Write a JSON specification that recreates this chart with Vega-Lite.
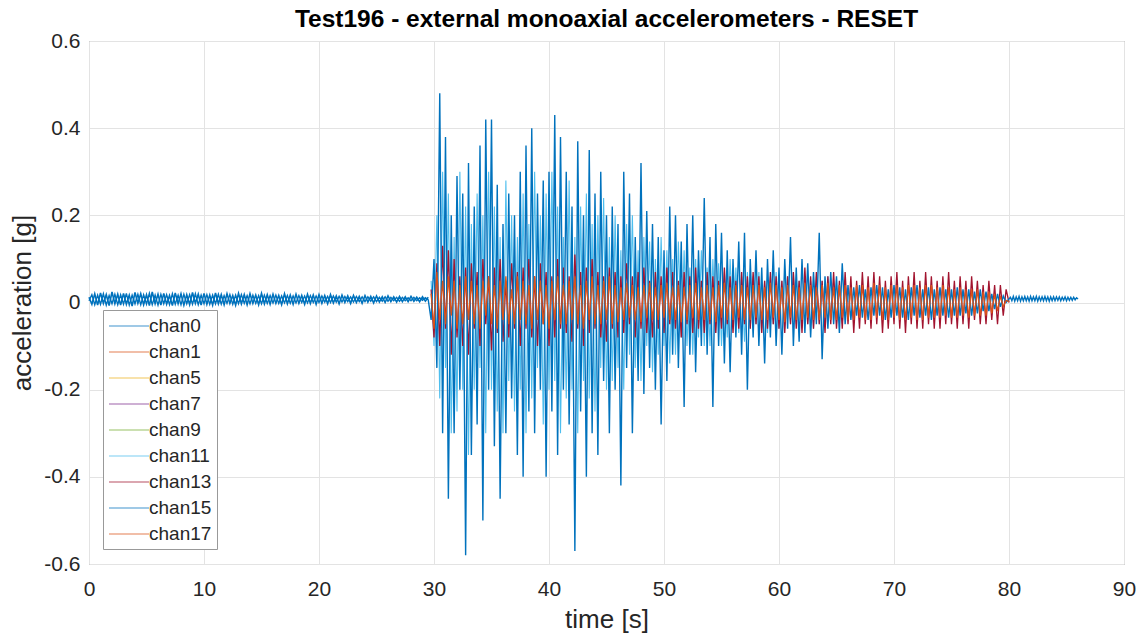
{
"$schema": "https://vega.github.io/schema/vega-lite/v6.json",
"width": 1035, "height": 523,
"autosize": {"type": "none"},
"padding": {"left": 89, "top": 41, "right": 23, "bottom": 78},
"background": "white",
"title": {"text": "Test196 - external monoaxial accelerometers - RESET", "font": "Liberation Sans", "fontSize": 24.5, "fontWeight": "bold", "color": "#000000", "anchor": "middle", "offset": -2},
"data": {"values": [
{"t":0,"chan0":0.012,"chan15":0.004},{"t":0.25,"chan0":-0.004,"chan15":0.018},{"t":0.5,"chan0":0.02,"chan15":-0.005},{"t":0.75,"chan0":-0.006,"chan15":0.017},
{"t":1,"chan0":0.022,"chan15":-0.004},{"t":1.25,"chan0":-0.002,"chan15":0.02},{"t":1.5,"chan0":0.018,"chan15":-0.006},{"t":1.75,"chan0":-0.007,"chan15":0.016},
{"t":2,"chan0":0.024,"chan15":-0.003},{"t":2.25,"chan0":-0.003,"chan15":0.019},{"t":2.5,"chan0":0.019,"chan15":-0.005},{"t":2.75,"chan0":-0.006,"chan15":0.018},
{"t":3,"chan0":0.021,"chan15":-0.004},{"t":3.25,"chan0":-0.004,"chan15":0.021},{"t":3.5,"chan0":0.017,"chan15":-0.006},{"t":3.75,"chan0":-0.008,"chan15":0.017},
{"t":4,"chan0":0.023,"chan15":-0.003},{"t":4.25,"chan0":-0.002,"chan15":0.019},{"t":4.5,"chan0":0.02,"chan15":-0.005},{"t":4.75,"chan0":-0.005,"chan15":0.018},
{"t":5,"chan0":0.018,"chan15":-0.004},{"t":5.25,"chan0":-0.007,"chan15":0.021},{"t":5.5,"chan0":0.024,"chan15":-0.005},{"t":5.75,"chan0":-0.003,"chan15":0.017},
{"t":6,"chan0":0.019,"chan15":-0.006},{"t":6.25,"chan0":-0.006,"chan15":0.019},{"t":6.5,"chan0":0.021,"chan15":-0.003},{"t":6.75,"chan0":-0.004,"chan15":0.018},
{"t":7,"chan0":0.016,"chan15":-0.005},{"t":7.25,"chan0":-0.007,"chan15":0.02},{"t":7.5,"chan0":0.022,"chan15":-0.004},{"t":7.75,"chan0":-0.003,"chan15":0.017},
{"t":8,"chan0":0.02,"chan15":-0.005},{"t":8.25,"chan0":-0.006,"chan15":0.019},{"t":8.5,"chan0":0.018,"chan15":-0.003},{"t":8.75,"chan0":-0.005,"chan15":0.018},
{"t":9,"chan0":0.023,"chan15":-0.004},{"t":9.25,"chan0":-0.002,"chan15":0.02},{"t":9.5,"chan0":0.019,"chan15":-0.005},{"t":9.75,"chan0":-0.006,"chan15":0.017},
{"t":10,"chan0":0.021,"chan15":-0.003},{"t":10.25,"chan0":-0.004,"chan15":0.018},{"t":10.5,"chan0":0.017,"chan15":-0.004},{"t":10.75,"chan0":-0.006,"chan15":0.017},
{"t":11,"chan0":0.022,"chan15":-0.003},{"t":11.25,"chan0":-0.003,"chan15":0.019},{"t":11.5,"chan0":0.018,"chan15":-0.004},{"t":11.75,"chan0":-0.005,"chan15":0.016},
{"t":12,"chan0":0.02,"chan15":-0.002},{"t":12.25,"chan0":-0.002,"chan15":0.018},{"t":12.5,"chan0":0.016,"chan15":-0.004},{"t":12.75,"chan0":-0.006,"chan15":0.017},
{"t":13,"chan0":0.021,"chan15":-0.003},{"t":13.25,"chan0":-0.003,"chan15":0.018},{"t":13.5,"chan0":0.018,"chan15":-0.002},{"t":13.75,"chan0":-0.005,"chan15":0.016},
{"t":14,"chan0":0.02,"chan15":-0.003},{"t":14.25,"chan0":-0.002,"chan15":0.017},{"t":14.5,"chan0":0.017,"chan15":-0.002},{"t":14.75,"chan0":-0.005,"chan15":0.016},
{"t":15,"chan0":0.021,"chan15":-0.003},{"t":15.25,"chan0":-0.003,"chan15":0.017},{"t":15.5,"chan0":0.018,"chan15":-0.002},{"t":15.75,"chan0":-0.004,"chan15":0.016},
{"t":16,"chan0":0.019,"chan15":-0.001},{"t":16.25,"chan0":-0.002,"chan15":0.017},{"t":16.5,"chan0":0.016,"chan15":-0.002},{"t":16.75,"chan0":-0.005,"chan15":0.015},
{"t":17,"chan0":0.02,"chan15":-0.001},{"t":17.25,"chan0":-0.003,"chan15":0.016},{"t":17.5,"chan0":0.017,"chan15":-0.002},{"t":17.75,"chan0":-0.004,"chan15":0.015},
{"t":18,"chan0":0.019,"chan15":-0.001},{"t":18.25,"chan0":-0.002,"chan15":0.016},{"t":18.5,"chan0":0.016,"chan15":0.0},{"t":18.75,"chan0":-0.004,"chan15":0.015},
{"t":19,"chan0":0.019,"chan15":-0.001},{"t":19.25,"chan0":-0.002,"chan15":0.016},{"t":19.5,"chan0":0.017,"chan15":0.0},{"t":19.75,"chan0":-0.004,"chan15":0.015},
{"t":20,"chan0":0.018,"chan15":0.0},{"t":20.25,"chan0":-0.002,"chan15":0.015},{"t":20.5,"chan0":0.016,"chan15":0.001},{"t":20.75,"chan0":-0.003,"chan15":0.014},
{"t":21,"chan0":0.018,"chan15":0.0},{"t":21.25,"chan0":-0.001,"chan15":0.015},{"t":21.5,"chan0":0.015,"chan15":0.001},{"t":21.75,"chan0":-0.003,"chan15":0.014},
{"t":22,"chan0":0.017,"chan15":0.001},{"t":22.25,"chan0":0.0,"chan15":0.014},{"t":22.5,"chan0":0.015,"chan15":0.002},{"t":22.75,"chan0":-0.002,"chan15":0.013},
{"t":23,"chan0":0.016,"chan15":0.001},{"t":23.25,"chan0":0.0,"chan15":0.014},{"t":23.5,"chan0":0.014,"chan15":0.002},{"t":23.75,"chan0":-0.002,"chan15":0.013},
{"t":24,"chan0":0.016,"chan15":0.002},{"t":24.25,"chan0":0.001,"chan15":0.013},{"t":24.5,"chan0":0.014,"chan15":0.003},{"t":24.75,"chan0":-0.001,"chan15":0.013},
{"t":25,"chan0":0.015,"chan15":0.002},{"t":25.25,"chan0":0.001,"chan15":0.012},{"t":25.5,"chan0":0.013,"chan15":0.003},{"t":25.75,"chan0":0.0,"chan15":0.013},
{"t":26,"chan0":0.015,"chan15":0.003},{"t":26.25,"chan0":0.002,"chan15":0.012},{"t":26.5,"chan0":0.013,"chan15":0.004},{"t":26.75,"chan0":0.001,"chan15":0.012},
{"t":27,"chan0":0.014,"chan15":0.003},{"t":27.25,"chan0":0.002,"chan15":0.012},{"t":27.5,"chan0":0.013,"chan15":0.004},{"t":27.75,"chan0":0.002,"chan15":0.011},
{"t":28,"chan0":0.014,"chan15":0.004},{"t":28.25,"chan0":0.003,"chan15":0.012},{"t":28.5,"chan0":0.012,"chan15":0.004},{"t":28.75,"chan0":0.002,"chan15":0.011},
{"t":29,"chan0":0.013,"chan15":0.005},{"t":29.25,"chan0":0.003,"chan15":0.011},{"t":29.5,"chan0":0.012,"chan15":0.006},
{"t":29.75,"chan11":0.05,"chan13":0.03,"chan15":-0.04,"chan17":0.02},
{"t":30,"chan11":-0.1,"chan13":-0.08,"chan15":0.1,"chan17":-0.06},
{"t":30.25,"chan11":0.2,"chan13":0.09,"chan15":-0.15,"chan17":0.07},
{"t":30.5,"chan11":-0.22,"chan13":-0.1,"chan15":0.48,"chan17":-0.04},
{"t":30.75,"chan11":0.3,"chan13":0.13,"chan15":-0.3,"chan17":0.05},
{"t":31,"chan11":-0.15,"chan13":-0.06,"chan15":0.38,"chan17":-0.05},
{"t":31.25,"chan11":0.25,"chan13":0.12,"chan15":-0.45,"chan17":0.06},
{"t":31.5,"chan11":-0.3,"chan13":-0.12,"chan15":0.2,"chan17":-0.03},
{"t":31.75,"chan11":0.15,"chan13":0.1,"chan15":-0.3,"chan17":0.05},
{"t":32,"chan11":-0.25,"chan13":-0.08,"chan15":0.29,"chan17":-0.06},
{"t":32.25,"chan11":0.3,"chan13":0.06,"chan15":-0.2,"chan17":0.04},
{"t":32.5,"chan11":-0.2,"chan13":-0.1,"chan15":0.25,"chan17":-0.05},
{"t":32.75,"chan11":0.22,"chan13":0.08,"chan15":-0.58,"chan17":0.06},
{"t":33,"chan11":-0.35,"chan13":-0.12,"chan15":0.32,"chan17":-0.04},
{"t":33.25,"chan11":0.18,"chan13":0.09,"chan15":-0.35,"chan17":0.05},
{"t":33.5,"chan11":-0.2,"chan13":-0.06,"chan15":0.22,"chan17":-0.05},
{"t":33.75,"chan11":0.25,"chan13":0.07,"chan15":-0.28,"chan17":0.04},
{"t":34,"chan11":-0.15,"chan13":-0.1,"chan15":0.36,"chan17":-0.06},
{"t":34.25,"chan11":0.2,"chan13":0.1,"chan15":-0.5,"chan17":0.05},
{"t":34.5,"chan11":-0.3,"chan13":-0.05,"chan15":0.42,"chan17":-0.03},
{"t":34.75,"chan11":0.3,"chan13":0.06,"chan15":-0.2,"chan17":0.06},
{"t":35,"chan11":-0.2,"chan13":-0.11,"chan15":0.42,"chan17":-0.05},
{"t":35.25,"chan11":0.22,"chan13":0.08,"chan15":-0.33,"chan17":0.04},
{"t":35.5,"chan11":-0.25,"chan13":-0.07,"chan15":0.27,"chan17":-0.06},
{"t":35.75,"chan11":0.15,"chan13":0.1,"chan15":-0.45,"chan17":0.05},
{"t":36,"chan11":-0.3,"chan13":-0.09,"chan15":0.18,"chan17":-0.04},
{"t":36.25,"chan11":0.28,"chan13":0.05,"chan15":-0.3,"chan17":0.06},
{"t":36.5,"chan11":-0.18,"chan13":-0.08,"chan15":0.25,"chan17":-0.05},
{"t":36.75,"chan11":0.2,"chan13":0.09,"chan15":-0.22,"chan17":0.03},
{"t":37,"chan11":-0.25,"chan13":-0.06,"chan15":0.2,"chan17":-0.05},
{"t":37.25,"chan11":0.15,"chan13":0.07,"chan15":-0.35,"chan17":0.06},
{"t":37.5,"chan11":-0.2,"chan13":-0.1,"chan15":0.3,"chan17":-0.04},
{"t":37.75,"chan11":0.25,"chan13":0.08,"chan15":-0.4,"chan17":0.05},
{"t":38,"chan11":-0.3,"chan13":-0.06,"chan15":0.36,"chan17":-0.05},
{"t":38.25,"chan11":0.18,"chan13":0.1,"chan15":-0.25,"chan17":0.04},
{"t":38.5,"chan11":-0.22,"chan13":-0.08,"chan15":0.4,"chan17":-0.06},
{"t":38.75,"chan11":0.3,"chan13":0.06,"chan15":-0.3,"chan17":0.06},
{"t":39,"chan11":-0.15,"chan13":-0.1,"chan15":0.25,"chan17":-0.04},
{"t":39.25,"chan11":0.2,"chan13":0.09,"chan15":-0.2,"chan17":0.05},
{"t":39.5,"chan11":-0.28,"chan13":-0.05,"chan15":0.28,"chan17":-0.05},
{"t":39.75,"chan11":0.25,"chan13":0.07,"chan15":-0.4,"chan17":0.04},
{"t":40,"chan11":-0.2,"chan13":-0.1,"chan15":0.3,"chan17":-0.06},
{"t":40.25,"chan11":0.3,"chan13":0.06,"chan15":-0.25,"chan17":0.05},
{"t":40.5,"chan11":-0.18,"chan13":-0.08,"chan15":0.43,"chan17":-0.04},
{"t":40.75,"chan11":0.22,"chan13":0.1,"chan15":-0.35,"chan17":0.06},
{"t":41,"chan11":-0.3,"chan13":-0.06,"chan15":0.38,"chan17":-0.05},
{"t":41.25,"chan11":0.15,"chan13":0.08,"chan15":-0.2,"chan17":0.04},
{"t":41.5,"chan11":-0.22,"chan13":-0.07,"chan15":0.3,"chan17":-0.05},
{"t":41.75,"chan11":0.28,"chan13":0.06,"chan15":-0.28,"chan17":0.05},
{"t":42,"chan11":-0.2,"chan13":-0.09,"chan15":0.22,"chan17":-0.04},
{"t":42.25,"chan11":0.15,"chan13":0.11,"chan15":-0.57,"chan17":0.06},
{"t":42.5,"chan11":-0.3,"chan13":-0.06,"chan15":0.37,"chan17":-0.05},
{"t":42.75,"chan11":0.22,"chan13":0.07,"chan15":-0.25,"chan17":0.04},
{"t":43,"chan11":-0.18,"chan13":-0.1,"chan15":0.2,"chan17":-0.06},
{"t":43.25,"chan11":0.25,"chan13":0.08,"chan15":-0.4,"chan17":0.05},
{"t":43.5,"chan11":-0.22,"chan13":-0.07,"chan15":0.35,"chan17":-0.04},
{"t":43.75,"chan11":0.18,"chan13":0.1,"chan15":-0.3,"chan17":0.06},
{"t":44,"chan11":-0.25,"chan13":-0.06,"chan15":0.25,"chan17":-0.05},
{"t":44.25,"chan11":0.2,"chan13":0.07,"chan15":-0.35,"chan17":0.04},
{"t":44.5,"chan11":-0.15,"chan13":-0.08,"chan15":0.3,"chan17":-0.05},
{"t":44.75,"chan11":0.24,"chan13":0.06,"chan15":-0.18,"chan17":0.05},
{"t":45,"chan11":-0.2,"chan13":-0.09,"chan15":0.2,"chan17":-0.04},
{"t":45.25,"chan11":0.15,"chan13":0.08,"chan15":-0.3,"chan17":0.06},
{"t":45.5,"chan11":-0.18,"chan13":-0.06,"chan15":0.22,"chan17":-0.05},
{"t":45.75,"chan11":0.2,"chan13":0.07,"chan15":-0.2,"chan17":0.04},
{"t":46,"chan11":-0.15,"chan13":-0.08,"chan15":0.18,"chan17":-0.045},
{"t":46.25,"chan11":0.12,"chan13":0.06,"chan15":-0.42,"chan17":0.035},
{"t":46.5,"chan11":-0.2,"chan13":-0.07,"chan15":0.3,"chan17":-0.04},
{"t":46.75,"chan11":0.18,"chan13":0.09,"chan15":-0.15,"chan17":0.045},
{"t":47,"chan11":-0.12,"chan13":-0.05,"chan15":0.25,"chan17":-0.035},
{"t":47.25,"chan11":0.2,"chan13":0.06,"chan15":-0.3,"chan17":0.04},
{"t":47.5,"chan11":-0.15,"chan13":-0.08,"chan15":0.15,"chan17":-0.04},
{"t":47.75,"chan11":0.12,"chan13":0.07,"chan15":-0.18,"chan17":0.035},
{"t":48,"chan11":-0.18,"chan13":-0.06,"chan15":0.32,"chan17":-0.045},
{"t":48.25,"chan11":0.15,"chan13":0.08,"chan15":-0.21,"chan17":0.04},
{"t":48.5,"chan11":-0.1,"chan13":-0.07,"chan15":0.21,"chan17":-0.035},
{"t":48.75,"chan11":0.14,"chan13":0.05,"chan15":-0.15,"chan17":0.045},
{"t":49,"chan11":-0.16,"chan13":-0.08,"chan15":0.18,"chan17":-0.04},
{"t":49.25,"chan11":0.1,"chan13":0.07,"chan15":-0.2,"chan17":0.035},
{"t":49.5,"chan11":-0.12,"chan13":-0.06,"chan15":0.15,"chan17":-0.04},
{"t":49.75,"chan11":0.15,"chan13":0.06,"chan15":-0.28,"chan17":0.04},
{"t":50,"chan11":-0.1,"chan13":-0.07,"chan15":0.12,"chan17":-0.035},
{"t":50.25,"chan11":0.12,"chan13":0.08,"chan15":-0.18,"chan17":0.045},
{"t":50.5,"chan11":-0.14,"chan13":-0.05,"chan15":0.22,"chan17":-0.04},
{"t":50.75,"chan11":0.1,"chan13":0.07,"chan15":-0.12,"chan17":0.035},
{"t":51,"chan11":-0.12,"chan13":-0.06,"chan15":0.2,"chan17":-0.04},
{"t":51.25,"chan11":0.14,"chan13":0.05,"chan15":-0.15,"chan17":0.04},
{"t":51.5,"chan11":-0.08,"chan13":-0.08,"chan15":0.14,"chan17":-0.045},
{"t":51.75,"chan11":0.12,"chan13":0.07,"chan15":-0.24,"chan17":0.035},
{"t":52,"chan11":-0.1,"chan13":-0.05,"chan15":0.18,"chan17":-0.04},
{"t":52.25,"chan11":0.08,"chan13":0.06,"chan15":-0.12,"chan17":0.04},
{"t":52.5,"chan11":-0.12,"chan13":-0.07,"chan15":0.2,"chan17":-0.035},
{"t":52.75,"chan11":0.1,"chan13":0.08,"chan15":-0.16,"chan17":0.045},
{"t":53,"chan11":-0.08,"chan13":-0.06,"chan15":0.12,"chan17":-0.04},
{"t":53.25,"chan11":0.12,"chan13":0.05,"chan15":-0.1,"chan17":0.035},
{"t":53.5,"chan11":-0.1,"chan13":-0.07,"chan15":0.24,"chan17":-0.04},
{"t":53.75,"chan11":0.08,"chan13":0.07,"chan15":-0.12,"chan17":0.04},
{"t":54,"chan11":-0.1,"chan13":-0.05,"chan15":0.15,"chan17":-0.04},
{"t":54.25,"chan11":0.1,"chan13":0.06,"chan15":-0.24,"chan17":0.035},
{"t":54.5,"chan11":-0.07,"chan13":-0.07,"chan15":0.18,"chan17":-0.045},
{"t":54.75,"chan11":0.09,"chan13":0.05,"chan15":-0.1,"chan17":0.04},
{"t":55,"chan11":-0.1,"chan13":-0.06,"chan15":0.16,"chan17":-0.035},
{"t":55.25,"chan11":0.07,"chan13":0.08,"chan15":-0.14,"chan17":0.045},
{"t":55.5,"chan11":-0.08,"chan13":-0.05,"chan15":0.12,"chan17":-0.04},
{"t":55.75,"chan11":0.1,"chan13":0.06,"chan15":-0.16,"chan17":0.035},
{"t":56,"chan11":-0.06,"chan13":-0.07,"chan15":0.1,"chan17":-0.04},
{"t":56.25,"chan11":0.08,"chan13":0.05,"chan15":-0.08,"chan17":0.04},
{"t":56.5,"chan11":-0.07,"chan13":-0.06,"chan15":0.14,"chan17":-0.035},
{"t":56.75,"chan11":0.06,"chan13":0.07,"chan15":-0.12,"chan17":0.04},
{"t":57,"chan11":-0.09,"chan13":-0.05,"chan15":0.16,"chan17":-0.04},
{"t":57.25,"chan11":0.07,"chan13":0.06,"chan15":-0.2,"chan17":0.035},
{"t":57.5,"chan11":-0.06,"chan13":-0.06,"chan15":0.1,"chan17":-0.04},
{"t":57.75,"chan11":0.06,"chan13":0.07,"chan15":-0.08,"chan17":0.04},
{"t":58,"chan11":-0.05,"chan13":-0.05,"chan15":0.12,"chan17":-0.035},
{"t":58.25,"chan11":0.07,"chan13":0.06,"chan15":-0.1,"chan17":0.04},
{"t":58.5,"chan11":-0.06,"chan13":-0.07,"chan15":0.08,"chan17":-0.04},
{"t":58.75,"chan11":0.05,"chan13":0.05,"chan15":-0.14,"chan17":0.035},
{"t":59,"chan11":-0.07,"chan13":-0.06,"chan15":0.1,"chan17":-0.04},
{"t":59.25,"chan11":0.06,"chan13":0.07,"chan15":-0.08,"chan17":0.045},
{"t":59.5,"chan11":-0.05,"chan13":-0.05,"chan15":0.12,"chan17":-0.035},
{"t":59.75,"chan11":0.07,"chan13":0.06,"chan15":-0.1,"chan17":0.04},
{"t":60,"chan11":-0.06,"chan13":-0.06,"chan15":0.08,"chan17":-0.04},
{"t":60.25,"chan11":0.05,"chan13":0.05,"chan15":-0.12,"chan17":0.035},
{"t":60.5,"chan11":-0.06,"chan13":-0.07,"chan15":0.1,"chan17":-0.045},
{"t":60.75,"chan11":0.06,"chan13":0.06,"chan15":-0.06,"chan17":0.04},
{"t":61,"chan11":-0.05,"chan13":-0.05,"chan15":0.15,"chan17":-0.035},
{"t":61.25,"chan11":0.07,"chan13":0.07,"chan15":-0.1,"chan17":0.04},
{"t":61.5,"chan11":-0.05,"chan13":-0.06,"chan15":0.08,"chan17":-0.04},
{"t":61.75,"chan11":0.05,"chan13":0.05,"chan15":-0.09,"chan17":0.035},
{"t":62,"chan11":-0.06,"chan13":-0.07,"chan15":0.1,"chan17":-0.04},
{"t":62.25,"chan11":0.06,"chan13":0.08,"chan15":-0.07,"chan17":0.045},
{"t":62.5,"chan11":-0.05,"chan13":-0.05,"chan15":0.09,"chan17":-0.035},
{"t":62.75,"chan11":0.05,"chan13":0.06,"chan15":-0.08,"chan17":0.04},
{"t":63,"chan11":-0.06,"chan13":-0.06,"chan15":0.07,"chan17":-0.04},
{"t":63.25,"chan11":0.06,"chan13":0.07,"chan15":-0.05,"chan17":0.035},
{"t":63.5,"chan11":-0.05,"chan13":-0.05,"chan15":0.16,"chan17":-0.04},
{"t":63.75,"chan11":0.05,"chan13":0.05,"chan15":-0.13,"chan17":0.04},
{"t":64,"chan11":-0.05,"chan13":-0.07,"chan15":0.06,"chan17":-0.035},
{"t":64.25,"chan11":0.06,"chan13":0.06,"chan15":-0.06,"chan17":0.045},
{"t":64.5,"chan11":-0.04,"chan13":-0.05,"chan15":0.07,"chan17":-0.04},
{"t":64.75,"chan11":0.05,"chan13":0.07,"chan15":-0.05,"chan17":0.035},
{"t":65,"chan11":-0.05,"chan13":-0.06,"chan15":0.06,"chan17":-0.04},
{"t":65.25,"chan11":0.04,"chan13":0.05,"chan15":-0.07,"chan17":0.04},
{"t":65.5,"chan11":-0.05,"chan13":-0.06,"chan15":0.09,"chan17":-0.035},
{"t":65.75,"chan11":0.03,"chan13":0.07,"chan15":-0.05,"chan17":0.04},
{"t":66,"chan11":0.0,"chan13":-0.05,"chan15":0.04,"chan17":-0.04},
{"t":66.25,"chan13":0.06,"chan15":-0.04,"chan17":0.035},
{"t":66.5,"chan13":-0.07,"chan15":0.035,"chan17":-0.04},
{"t":66.75,"chan13":0.05,"chan15":-0.03,"chan17":0.04},
{"t":67,"chan13":-0.06,"chan15":0.04,"chan17":-0.035},
{"t":67.25,"chan13":0.07,"chan15":-0.035,"chan17":0.04},
{"t":67.5,"chan13":-0.05,"chan15":0.03,"chan17":-0.04},
{"t":67.75,"chan13":0.06,"chan15":-0.04,"chan17":0.035},
{"t":68,"chan13":-0.06,"chan15":0.035,"chan17":-0.04},
{"t":68.25,"chan13":0.07,"chan15":-0.03,"chan17":0.045},
{"t":68.5,"chan13":-0.05,"chan15":0.04,"chan17":-0.035},
{"t":68.75,"chan13":0.06,"chan15":-0.03,"chan17":0.04},
{"t":69,"chan13":-0.07,"chan15":0.035,"chan17":-0.04},
{"t":69.25,"chan13":0.05,"chan15":-0.04,"chan17":0.035},
{"t":69.5,"chan13":-0.06,"chan15":0.03,"chan17":-0.04},
{"t":69.75,"chan13":0.06,"chan15":-0.035,"chan17":0.04},
{"t":70,"chan13":-0.05,"chan15":0.04,"chan17":-0.035},
{"t":70.25,"chan13":0.07,"chan15":-0.03,"chan17":0.04},
{"t":70.5,"chan13":-0.06,"chan15":0.035,"chan17":-0.04},
{"t":70.75,"chan13":0.05,"chan15":-0.035,"chan17":0.035},
{"t":71,"chan13":-0.07,"chan15":0.03,"chan17":-0.04},
{"t":71.25,"chan13":0.06,"chan15":-0.04,"chan17":0.04},
{"t":71.5,"chan13":-0.05,"chan15":0.035,"chan17":-0.035},
{"t":71.75,"chan13":0.07,"chan15":-0.03,"chan17":0.04},
{"t":72,"chan13":-0.06,"chan15":0.04,"chan17":-0.04},
{"t":72.25,"chan13":0.05,"chan15":-0.035,"chan17":0.035},
{"t":72.5,"chan13":-0.06,"chan15":0.03,"chan17":-0.04},
{"t":72.75,"chan13":0.07,"chan15":-0.03,"chan17":0.04},
{"t":73,"chan13":-0.05,"chan15":0.035,"chan17":-0.035},
{"t":73.25,"chan13":0.06,"chan15":-0.04,"chan17":0.04},
{"t":73.5,"chan13":-0.06,"chan15":0.03,"chan17":-0.035},
{"t":73.75,"chan13":0.05,"chan15":-0.03,"chan17":0.035},
{"t":74,"chan13":-0.06,"chan15":0.035,"chan17":-0.035},
{"t":74.25,"chan13":0.06,"chan15":-0.03,"chan17":0.04},
{"t":74.5,"chan13":-0.05,"chan15":0.03,"chan17":-0.03},
{"t":74.75,"chan13":0.07,"chan15":-0.035,"chan17":0.035},
{"t":75,"chan13":-0.05,"chan15":0.03,"chan17":-0.035},
{"t":75.25,"chan13":0.05,"chan15":-0.03,"chan17":0.03},
{"t":75.5,"chan13":-0.06,"chan15":0.035,"chan17":-0.035},
{"t":75.75,"chan13":0.06,"chan15":-0.03,"chan17":0.035},
{"t":76,"chan13":-0.05,"chan15":0.03,"chan17":-0.03},
{"t":76.25,"chan13":0.05,"chan15":-0.025,"chan17":0.03},
{"t":76.5,"chan13":-0.06,"chan15":0.03,"chan17":-0.035},
{"t":76.75,"chan13":0.06,"chan15":-0.03,"chan17":0.03},
{"t":77,"chan13":-0.04,"chan15":0.025,"chan17":-0.03},
{"t":77.25,"chan13":0.05,"chan15":-0.025,"chan17":0.03},
{"t":77.5,"chan13":-0.05,"chan15":0.03,"chan17":-0.03},
{"t":77.75,"chan13":0.04,"chan15":-0.02,"chan17":0.025},
{"t":78,"chan13":-0.05,"chan15":0.025,"chan17":-0.03},
{"t":78.25,"chan13":0.05,"chan15":-0.02,"chan17":0.025},
{"t":78.5,"chan13":-0.04,"chan15":0.02,"chan17":-0.025},
{"t":78.75,"chan13":0.04,"chan15":-0.015,"chan17":0.02},
{"t":79,"chan13":-0.05,"chan15":0.02,"chan17":-0.02},
{"t":79.25,"chan13":0.04,"chan15":-0.01,"chan17":0.015},
{"t":79.5,"chan13":-0.03,"chan15":0.015,"chan17":-0.01},
{"t":79.75,"chan13":0.03,"chan15":0.0,"chan17":0.005},
{"t":80,"chan13":0.0,"chan15":0.008,"chan17":0.002},
{"t":80.125,"chan15":0.012},{"t":80.25,"chan15":0.004},{"t":80.375,"chan15":0.014},{"t":80.5,"chan15":0.003},
{"t":80.625,"chan15":0.013},{"t":80.75,"chan15":0.004},{"t":80.875,"chan15":0.014},{"t":81,"chan15":0.003},
{"t":81.125,"chan15":0.013},{"t":81.25,"chan15":0.004},{"t":81.375,"chan15":0.014},{"t":81.5,"chan15":0.004},
{"t":81.625,"chan15":0.013},{"t":81.75,"chan15":0.003},{"t":81.875,"chan15":0.014},{"t":82,"chan15":0.004},
{"t":82.125,"chan15":0.013},{"t":82.25,"chan15":0.004},{"t":82.375,"chan15":0.014},{"t":82.5,"chan15":0.003},
{"t":82.625,"chan15":0.013},{"t":82.75,"chan15":0.004},{"t":82.875,"chan15":0.013},{"t":83,"chan15":0.004},
{"t":83.125,"chan15":0.014},{"t":83.25,"chan15":0.004},{"t":83.375,"chan15":0.013},{"t":83.5,"chan15":0.003},
{"t":83.625,"chan15":0.013},{"t":83.75,"chan15":0.004},{"t":83.875,"chan15":0.013},{"t":84,"chan15":0.004},
{"t":84.125,"chan15":0.013},{"t":84.25,"chan15":0.005},{"t":84.375,"chan15":0.013},{"t":84.5,"chan15":0.004},
{"t":84.625,"chan15":0.012},{"t":84.75,"chan15":0.005},{"t":84.875,"chan15":0.013},{"t":85,"chan15":0.004},
{"t":85.125,"chan15":0.012},{"t":85.25,"chan15":0.005},{"t":85.375,"chan15":0.012},{"t":85.5,"chan15":0.005},
{"t":85.625,"chan15":0.012},{"t":85.75,"chan15":0.006},{"t":85.875,"chan15":0.011},{"t":86,"chan15":0.008}
]},
"transform": [
  {"fold": ["chan0", "chan11", "chan13", "chan15", "chan17"], "as": ["channel", "value"]},
  {"filter": "isValid(datum.value)"}
],
"encoding": {
  "x": {"field": "t", "type": "quantitative", "scale": {"domain": [0, 90], "nice": false, "zero": false},
        "axis": {"title": "time [s]", "values": [0, 10, 20, 30, 40, 50, 60, 70, 80, 90]}},
  "y": {"field": "value", "type": "quantitative", "scale": {"domain": [-0.6, 0.6], "nice": false},
        "axis": {"title": "acceleration [g]", "values": [-0.6, -0.4, -0.2, 0, 0.2, 0.4, 0.6], "labelExpr": "'' + datum.value"}},
  "color": {"field": "channel", "type": "nominal",
        "scale": {"domain": ["chan0", "chan1", "chan5", "chan7", "chan9", "chan11", "chan13", "chan15", "chan17"],
                  "range": ["#0072BD", "#D95319", "#EDB120", "#7E2F8E", "#77AC30", "#4DBEEE", "#A2142F", "#0072BD", "#D95319"]},
        "legend": {"title": null,
                   "encode": {"symbols": {"update": {"stroke": {"scale": "color", "field": "value"}, "strokeOpacity": {"value": 0.75}, "fill": {"value": "transparent"}}}}}}
},
"layer": [
  {"transform": [{"filter": "datum.channel === 'chan0'"}], "mark": {"type": "line", "strokeWidth": 1.6}},
  {"transform": [{"filter": "datum.channel === 'chan11'"}], "mark": {"type": "line", "strokeWidth": 1.1}},
  {"transform": [{"filter": "datum.channel === 'chan13'"}], "mark": {"type": "line", "strokeWidth": 1.3}},
  {"transform": [{"filter": "datum.channel === 'chan15'"}], "mark": {"type": "line", "strokeWidth": 1.4}},
  {"transform": [{"filter": "datum.channel === 'chan17'"}], "mark": {"type": "line", "strokeWidth": 1.3}}
],
"config": {
  "view": {"stroke": "#808080", "strokeWidth": 1},
  "axis": {"labelFont": "Liberation Sans", "titleFont": "Liberation Sans", "labelFontSize": 21, "titleFontSize": 26,
           "titleFontWeight": "normal", "labelColor": "#262626", "titleColor": "#262626",
           "gridColor": "#e3e3e3", "gridOpacity": 1, "grid": true, "domain": false, "ticks": false,
           "labelFlush": false, "labelOverlap": false, "labelBound": false},
  "axisX": {"labelPadding": 14, "titlePadding": 7},
  "axisY": {"labelPadding": 9, "titlePadding": 8},
  "legend": {"orient": "none", "legendX": 14, "legendY": 269, "fillColor": "white", "strokeColor": "#999999",
             "padding": 5, "labelFont": "Liberation Sans", "labelFontSize": 19, "labelColor": "#262626",
             "symbolType": "M-1,0H3", "symbolSize": 400, "symbolStrokeWidth": 1.2, "rowPadding": 5, "labelOffset": 19,
             "labelLimit": 200}
}
}
